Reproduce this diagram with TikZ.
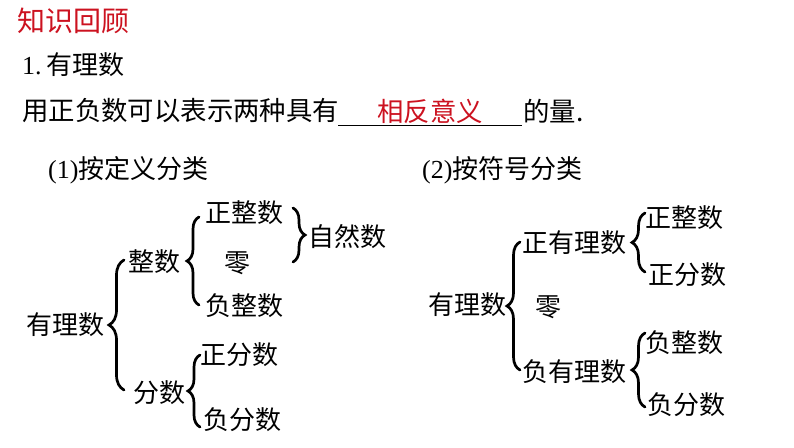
\documentclass[tikz,border=0pt]{standalone}
\usepackage{fontspec}
\setmainfont{Liberation Serif}
\newfontfamily\cjk{Noto Sans CJK SC}
\usetikzlibrary{decorations.pathreplacing}
\definecolor{myred}{RGB}{204,18,32}
\begin{document}
\begin{tikzpicture}[x=1pt,y=-1pt,
  txt/.style={inner sep=0pt, anchor=west, font=\cjk\fontsize{26}{30}\selectfont},
  wide/.style={font=\cjk\fontsize{26.4}{30}\selectfont},
  ttl/.style={inner sep=0pt, anchor=west, text=myred, font=\cjk\fontsize{28}{32}\selectfont},
  brc/.style={decorate, decoration={brace, amplitude=#1}, line width=2.7pt, line cap=round},
  uline/.style={line width=1pt}
]
\useasboundingbox (0,0) rectangle (794,447);
% header
\node[ttl] (title) at (17,21) {知识回顾};
\node[txt] (sec) at (22,65) {{\rmfamily 1.}\,有理数};
\node[txt, wide] (sent) at (22,111) {用正负数可以表示两种具有};
\coordinate (ua) at (338,125);
\coordinate (ub) at (522,125);
\draw[uline] (ua) -- (ub);
\node[txt, wide, anchor=center, text=myred] (ans) at (430,111) {相反意义};
\node[txt, wide] (tail) at (523,111) {的量.};
\node[txt] (h1) at (48,170) {{\rmfamily (1)}按定义分类};
\node[txt] (h2) at (422,170) {{\rmfamily (2)}按符号分类};
% left tree
\node[txt] (L0) at (26,325) {有理数};
\node[txt] (Lz) at (128,262) {整数};
\node[txt] (Lf) at (133,393) {分数};
\node[txt] (Lzz) at (205,213) {正整数};
\node[txt] (Lzero) at (224,263) {零};
\node[txt] (Lfz) at (205,306) {负整数};
\node[txt] (Lnat) at (308,237) {自然数};
\node[txt] (Lzf) at (200,355) {正分数};
\node[txt] (Lff) at (203,420) {负分数};
\draw[brc=15] (124,390) -- (124,260);
\draw[brc=12] (199,305) -- (199,217);
\draw[brc=12] (293,208) -- (293,262);
\draw[brc=12] (200,427) -- (200,355);
% right tree
\node[txt] (R0) at (428,305) {有理数};
\node[txt] (Rp) at (522,243) {正有理数};
\node[txt] (Rzero) at (535,307) {零};
\node[txt] (Rn) at (522,372) {负有理数};
\node[txt] (Rpz) at (645,218) {正整数};
\node[txt] (Rpf) at (648,275) {正分数};
\node[txt] (Rnz) at (645,343) {负整数};
\node[txt] (Rnf) at (647,405) {负分数};
\draw[brc=13] (520,370) -- (520,242);
\draw[brc=13] (645,272) -- (645,213);
\draw[brc=13] (645,407) -- (645,333);
\end{tikzpicture}
\end{document}
